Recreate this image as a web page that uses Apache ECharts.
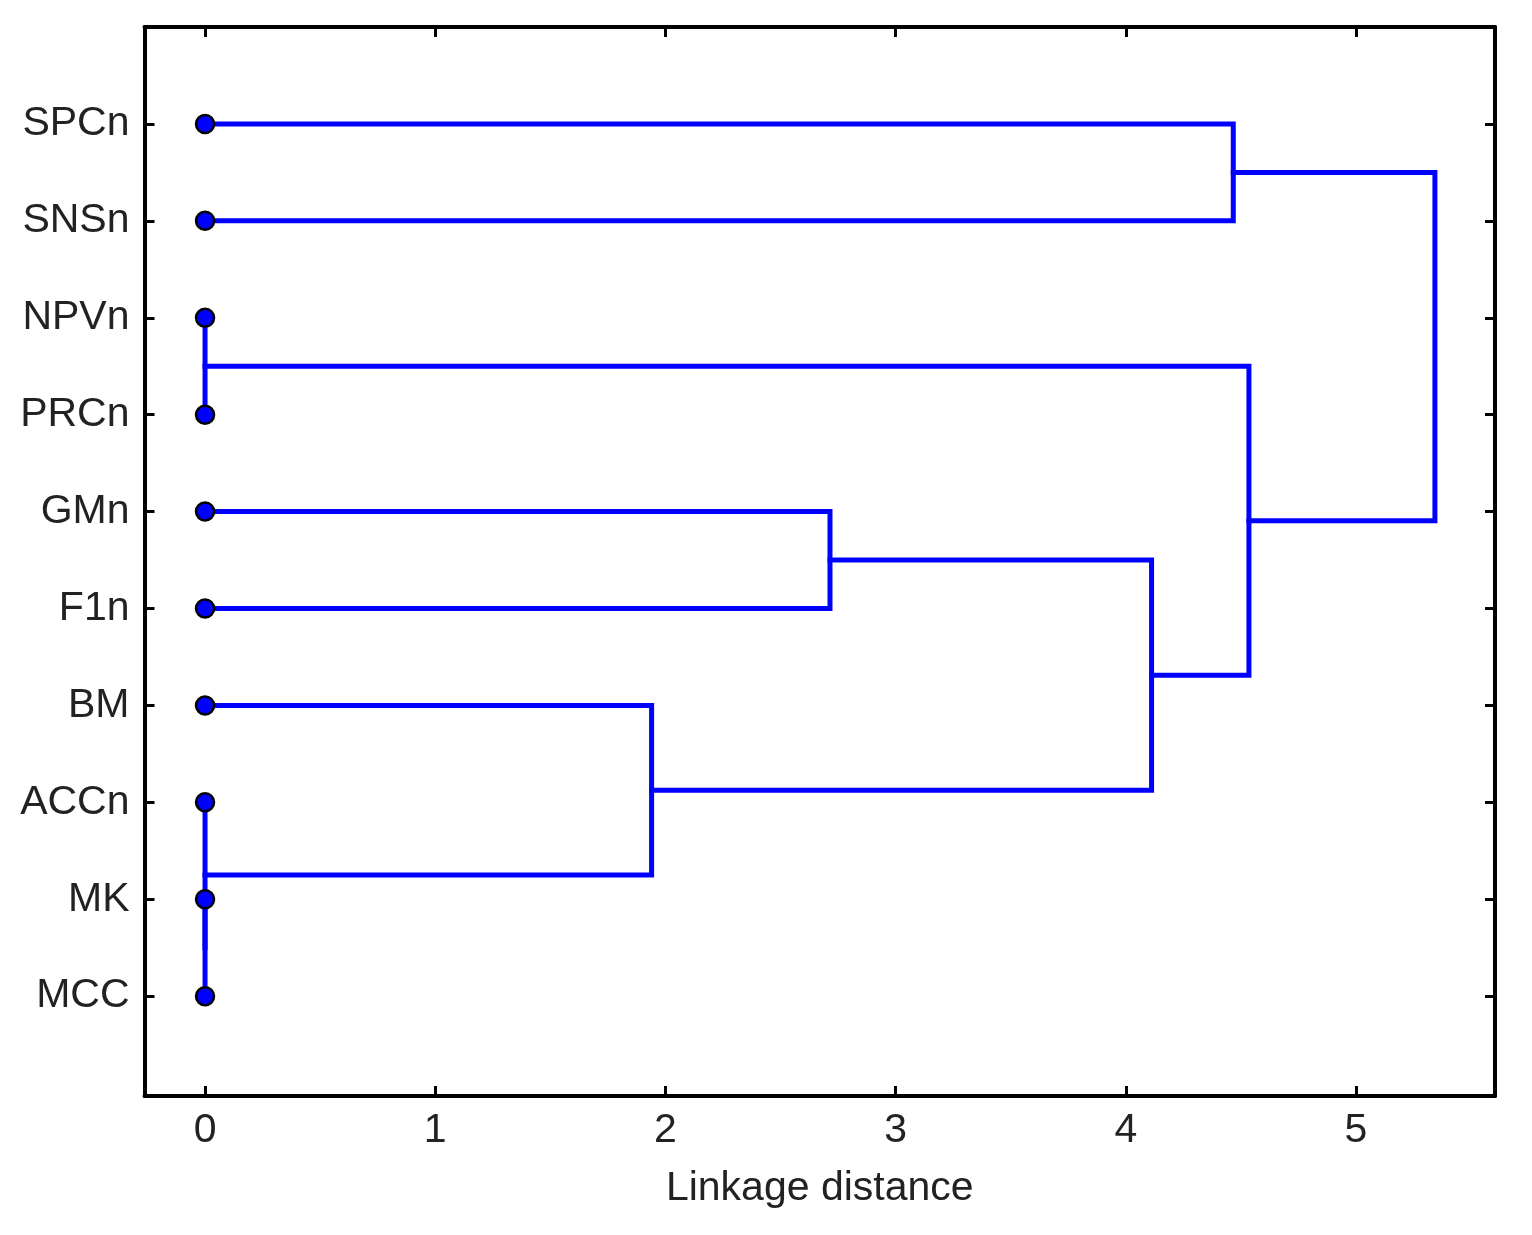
<!DOCTYPE html>
<html>
<head>
<meta charset="utf-8">
<script src="https://cdn.jsdelivr.net/npm/echarts@6/dist/echarts.min.js"></script>
<style>
html,body{margin:0;padding:0;background:#fff;}
#chart{width:1532px;height:1235px;}
</style>
</head>
<body>
<div id="chart"></div>
<script>
// Leaves, top to bottom
var leaves = ['SPCn','SNSn','NPVn','PRCn','GMn','F1n','BM','ACCn','MK','MCC'];
// Merge steps: [childA, childB, linkage distance]; ids 0..9 are leaves, 10+ are clusters in merge order
// 10=MK+MCC, 11=ACCn+10, 12=NPVn+PRCn, 13=BM+11, 14=GMn+F1n, 15=14+13, 16=SPCn+SNSn, 17=12+15, 18=16+17
var mergeA = [8, 7, 2, 6, 4, 14, 0, 12, 16];
var mergeB = [9, 10, 3, 11, 5, 13, 1, 15, 17];
var mergeDist = [0, 0, 0, 1.94, 2.715, 4.112, 4.467, 4.535, 5.343];
var xTicks = [0, 1, 2, 3, 4, 5];
var xName = 'Linkage distance';

var pos = [], hgt = [];
for (var i = 0; i < leaves.length; i++) { pos.push(i + 1); hgt.push(0); }
var series = [];
for (var m = 0; m < mergeDist.length; m++) {
  var a = mergeA[m], b = mergeB[m], d = mergeDist[m];
  series.push({
    type: 'line', symbol: 'none', silent: true, z: 2,
    lineStyle: { color: '#0000ff', width: 5, join: 'miter', cap: 'square' },
    data: [[hgt[a], pos[a]], [d, pos[a]], [d, pos[b]], [hgt[b], pos[b]]],
    animation: false
  });
  pos.push((pos[a] + pos[b]) / 2);
  hgt.push(d);
}
series.push({
  type: 'scatter', z: 5, symbol: 'circle', symbolSize: 18,
  itemStyle: { color: '#0000ff', borderColor: '#000', borderWidth: 2.5, opacity: 1 },
  data: leaves.map(function (n, i) { return [0, i + 1]; }),
  animation: false
});

var font = 'Liberation Sans, Arial, sans-serif';
var tickCommon = { show: true, inside: true, length: 10, lineStyle: { color: '#000', width: 3 } };
var lineCommon = { show: true, onZero: false, lineStyle: { color: '#000', width: 4 } };
var xMin = -0.263, xMax = 5.604, yMin = 0, yMax = 11.03;
var leafTicks = leaves.map(function (n, i) { return i + 1; });

var chart = echarts.init(document.getElementById('chart'));
chart.setOption({
  backgroundColor: '#fff',
  animation: false,
  grid: { left: 144.5, right: 37, top: 27, bottom: 139, containLabel: false },
  xAxis: [{
    type: 'value', position: 'bottom', min: xMin, max: xMax,
    name: xName, nameLocation: 'middle', nameGap: 72,
    nameTextStyle: { fontFamily: font, fontSize: 41, color: '#222' },
    axisLine: lineCommon,
    axisTick: Object.assign({}, tickCommon, { customValues: xTicks }),
    axisLabel: { customValues: xTicks, margin: 14, fontFamily: font, fontSize: 41, color: '#222' },
    splitLine: { show: false }
  }, {
    type: 'value', position: 'top', min: xMin, max: xMax,
    axisLine: lineCommon,
    axisTick: Object.assign({}, tickCommon, { customValues: xTicks }),
    axisLabel: { show: false },
    splitLine: { show: false }
  }],
  yAxis: [{
    type: 'value', position: 'left', inverse: true, min: yMin, max: yMax,
    axisLine: lineCommon,
    axisTick: Object.assign({}, tickCommon, { customValues: leafTicks }),
    axisLabel: {
      customValues: leafTicks,
      formatter: function (v) { return leaves[Math.round(v) - 1] || ''; },
      margin: 15, fontFamily: font, fontSize: 41, color: '#222'
    },
    splitLine: { show: false }
  }, {
    type: 'value', position: 'right', inverse: true, min: yMin, max: yMax,
    axisLine: lineCommon,
    axisTick: Object.assign({}, tickCommon, { customValues: leafTicks }),
    axisLabel: { show: false },
    splitLine: { show: false }
  }],
  series: series
});
</script>
</body>
</html>
